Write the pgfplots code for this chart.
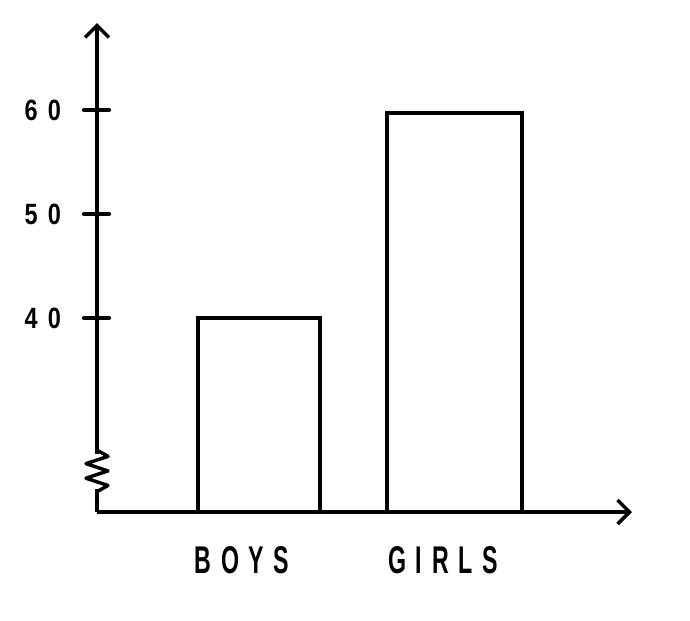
\documentclass[border=0pt]{standalone}
\usepackage{fontspec}
\usepackage{pgfplots}
\pgfplotsset{compat=1.18}
\usetikzlibrary{arrows.meta}
\newfontfamily\hand[FakeStretch=0.6,LetterSpace=25]{Liberation Sans}
\newfontfamily\handnum[FakeStretch=0.8,LetterSpace=35]{Liberation Sans}
\begin{document}
\begin{tikzpicture}
\useasboundingbox (0,0) rectangle (517.5pt,-465.75pt);
\begin{axis}[
  at={(72.75pt,-384pt)}, anchor=south west,
  scale only axis, width=401.25pt, height=366.75pt,
  xmin=97, xmax=632, ymin=21.35, ymax=68.37,
  axis x line=bottom, axis y line=left,
  clip mode=individual,
  axis line style={line width=3pt, -{Straight Barb[length=9pt,width=18pt,line width=2.6pt]}},
  ytick={40,50,60},
  xtick=\empty,
  major tick length=19pt,
  tick align=center,
  tick style={line width=3pt, black},
  /pgf/number format/assume math mode=true,
  yticklabel style={font=\handnum\bfseries\fontsize{22}{24}\selectfont, xshift=-14pt},
  after end axis/.code={
    \draw[line width=3.2pt, line cap=round, black] (axis cs:84,40) -- (axis cs:109,40);
    \draw[line width=3.2pt, line cap=round, black] (axis cs:84,50) -- (axis cs:109,50);
    \draw[line width=3.2pt, line cap=round, black] (axis cs:84,60) -- (axis cs:109,60);
  },
]
\addplot[ybar, bar shift=0pt, bar width=122, fill=white, draw=black, line width=3pt] coordinates {(259,40)};
\addplot[ybar, bar shift=0pt, bar width=135, fill=white, draw=black, line width=3pt] coordinates {(454.5,59.75)};
% category labels
\node[font=\hand\bfseries\fontsize{29}{32}\selectfont, anchor=north] at (axis cs:242,21.35) [yshift=-22pt] {BOYS};
\node[font=\hand\bfseries\fontsize{29}{32}\selectfont, anchor=north] at (axis cs:443,21.35) [yshift=-22pt] {GIRLS};
% axis break
\fill[white] (axis cs:92,26.9) rectangle (axis cs:102,23.6);
\draw[line width=2.6pt, line join=round, line cap=round]
  (axis cs:97,27.3) -- (axis cs:108,26.7) -- (axis cs:86,26.0) -- (axis cs:108,25.3)
  -- (axis cs:86,24.6) -- (axis cs:108,23.9) -- (axis cs:97,23.3);
\end{axis}
\end{tikzpicture}
\end{document}
